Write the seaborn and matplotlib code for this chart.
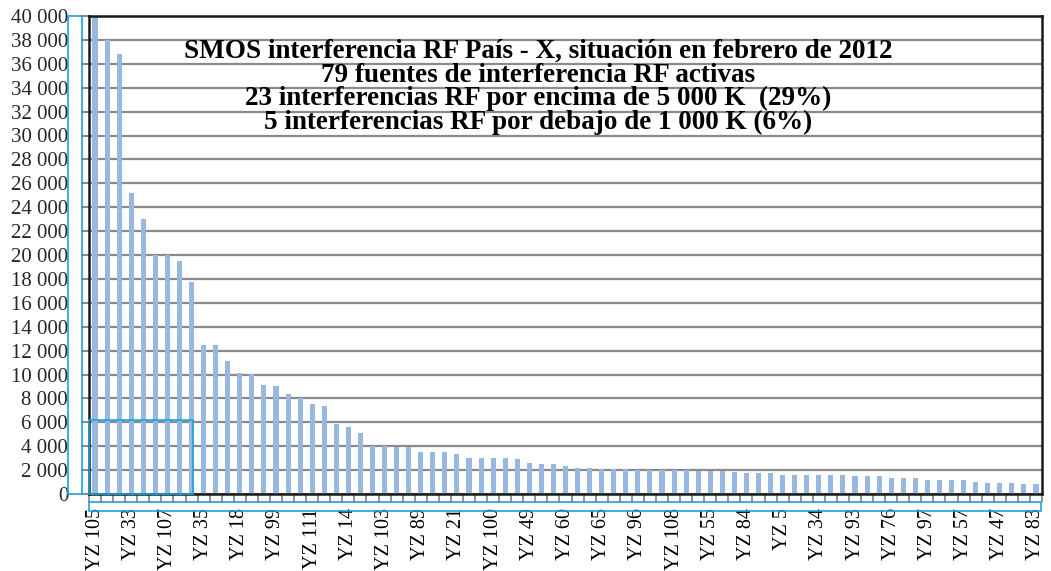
import matplotlib
matplotlib.use("Agg")
import matplotlib.pyplot as plt
import matplotlib.ticker as mticker
from matplotlib.patches import Rectangle
import seaborn as sns
import pandas as pd

# ---------------- data ----------------
values = [40000, 38000, 36800, 25200, 23000, 20000, 20000, 19500, 17700, 12450,
          12450, 11100, 10100, 10050, 9100, 9000, 8350, 8050, 7500, 7350,
          5850, 5600, 5100, 4000, 4000, 3900, 3900, 3500, 3500, 3500,
          3350, 3000, 3000, 3000, 3000, 2900, 2560, 2480, 2480, 2310,
          2140, 2140, 2060, 2060, 2060, 1970, 1970, 1970, 1970, 1970,
          1890, 1890, 1890, 1800, 1720, 1720, 1720, 1630, 1630, 1550,
          1550, 1550, 1550, 1470, 1470, 1470, 1380, 1300, 1300, 1210,
          1210, 1130, 1130, 1040, 960, 960, 960, 870, 870]
shown_labels = ["YZ 105", "YZ 33", "YZ 107", "YZ 35", "YZ 18", "YZ 99", "YZ 111",
                "YZ 14", "YZ 103", "YZ 89", "YZ 21", "YZ 100", "YZ 49", "YZ 60",
                "YZ 65", "YZ 96", "YZ 108", "YZ 55", "YZ 84", "YZ 5", "YZ 34",
                "YZ 93", "YZ 76", "YZ 97", "YZ 57", "YZ 47", "YZ 83"]
label_step = 3
title_lines = ["SMOS interferencia RF País - X, situación en febrero de 2012",
               "79 fuentes de interferencia RF activas",
               "23 interferencias RF por encima de 5 000 K  (29%)",
               "5 interferencias RF por debajo de 1 000 K (6%)"]
y_max = 40000
y_step = 2000

# ---------------- figure ----------------
sns.set_theme(style="white")
plt.rcParams["font.family"] = ["Liberation Serif", "DejaVu Serif"]

W, H = 1051, 571
fig = plt.figure(figsize=(W / 100, H / 100), dpi=100)
ax = fig.add_axes([89 / W, 1 - 494 / H, (1042 - 89) / W, (494 - 16) / H])

df = pd.DataFrame({"idx": list(range(len(values))), "val": values})
sns.barplot(data=df, x="idx", y="val", ax=ax, color="#97b8e1", saturation=1,
            width=0.42, edgecolor="none", zorder=3)

ax.set_xlim(-0.5, len(values) - 0.5)
ax.set_ylim(0, y_max)
ax.yaxis.set_major_locator(mticker.MultipleLocator(y_step))
ax.yaxis.set_major_formatter(mticker.FuncFormatter(lambda v, p: f"{int(v):,}".replace(",", " ")))
ax.grid(axis="y", color="#8a8a8a", linewidth=1.6, zorder=1)
ax.grid(axis="x", visible=False)
ax.set_axisbelow(True)

ax.set_xticks(list(range(0, len(values), label_step)))
ax.set_xticklabels(shown_labels, rotation=90, fontsize=14.5, va="top", ha="center")
ax.set_xticks([i - 0.5 for i in range(len(values) + 1)], minor=True)
ax.tick_params(axis="x", which="major", length=0, pad=10, colors="black")
ax.tick_params(axis="x", which="minor", length=5.5, width=1.3, color="#8a8a8a", bottom=True)
ax.tick_params(axis="y", which="major", length=6, width=1.5, color="#8a8a8a", pad=9,
               labelsize=15, left=True)
ax.set_xlabel("")
ax.set_ylabel("")

for s in ax.spines.values():
    s.set_visible(True)
    s.set_color("#1a1a1a")
    s.set_linewidth(1.8)
    s.set_zorder(5)

# title text
for k, line in enumerate(title_lines):
    fig.text(538 / W, 1 - (58 + 23.7 * k) / H, line, ha="center", va="baseline",
             fontsize=19.5, fontweight="bold", color="black", zorder=10)

# selection rectangles (cyan)
cyan = "#1aa3dc"
def fig_rect(x0, y0, x1, y1):
    fig.patches.append(Rectangle((x0 / W, 1 - y1 / H), (x1 - x0) / W, (y1 - y0) / H,
                                 transform=fig.transFigure, fill=False,
                                 edgecolor=cyan, linewidth=1.2, zorder=20))
fig_rect(68, 16, 82, 494)
fig_rect(89, 502, 1041, 511)
fig_rect(89, 420, 193, 494)

fig.savefig("out.png", dpi=100)
